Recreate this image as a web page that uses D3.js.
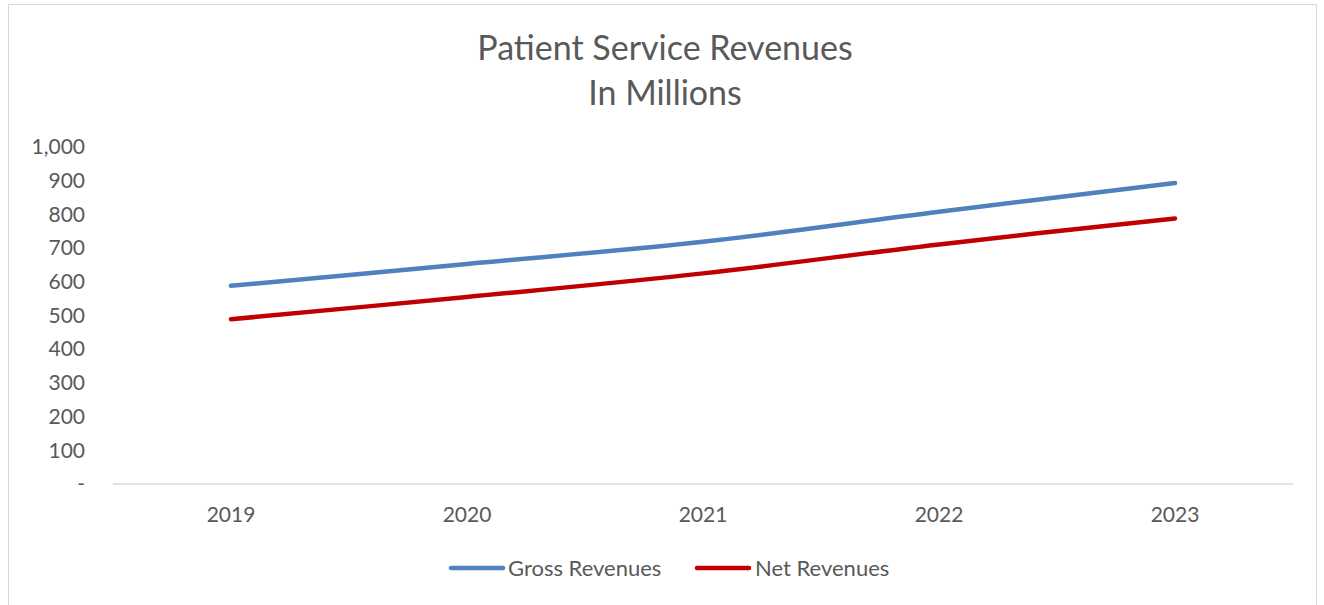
<!DOCTYPE html>
<html>
<head>
<meta charset="utf-8">
<script src="https://cdn.jsdelivr.net/npm/d3@7"></script>
<style>
  html, body { margin: 0; padding: 0; background: #fff; }
  svg { display: block; }
  text { font-family: Lato, "Open Sans", sans-serif; fill: #595959; }
</style>
</head>
<body>
<svg id="chart" width="1324" height="605"></svg>
<script>
// Patient service revenues, in millions of dollars
const years = ["2019", "2020", "2021", "2022", "2023"];
const grossRevenues = [588, 653, 719, 808, 893];
const netRevenues = [489, 555, 625, 711, 788];
const yTicks = [0, 100, 200, 300, 400, 500, 600, 700, 800, 900, 1000];
const seriesNames = ["Gross Revenues", "Net Revenues"];
const seriesColors = ["#4f81bd", "#c00000"];

const svg = d3.select("#chart");

// chart frame
svg.append("rect")
  .attr("x", 8.5).attr("y", 4.5)
  .attr("width", 1308).attr("height", 640)
  .attr("fill", "#fff").attr("stroke", "#d9d9d9").attr("stroke-width", 1);

const plot = { left: 113, right: 1293, top: 147, bottom: 484 };

const x = d3.scaleBand().domain(years).range([plot.left, plot.right]);
const y = d3.scaleLinear().domain([0, 1000]).range([plot.bottom, plot.top]);

// title
const title = svg.append("text")
  .attr("text-anchor", "middle")
  .style("font-size", "34px");
title.append("tspan").attr("x", 665).attr("y", 60).text("Patient Service Revenues");
title.append("tspan").attr("x", 665).attr("y", 105).text("In Millions");

// y axis labels (no line, no ticks)
const fmt = d3.format(",");
const yAxis = d3.axisLeft(y).tickValues(yTicks)
  .tickFormat(d => d === 0 ? "-" : fmt(d))
  .tickSize(0).tickPadding(0);
const gy = svg.append("g").attr("transform", "translate(85,0)").call(yAxis);
gy.select(".domain").remove();
gy.selectAll("text").style("font-size", "21px").attr("fill", "#595959")
  .style("font-family", "Lato, 'Open Sans', sans-serif");

// x axis
const xAxis = d3.axisBottom(x).tickSize(0).tickPadding(23);
const gx = svg.append("g").attr("transform", `translate(0,${plot.bottom})`).call(xAxis);
gx.select(".domain").attr("stroke", "#d9d9d9").attr("stroke-width", 1.5)
  .attr("d", `M${plot.left},0H${plot.right}`);
gx.selectAll("text").style("font-size", "21px").attr("fill", "#595959")
  .style("font-family", "Lato, 'Open Sans', sans-serif");

// lines
const line = d3.line()
  .x((d, i) => x(years[i]) + x.bandwidth() / 2)
  .y(d => y(d))
  .curve(d3.curveCatmullRom.alpha(0.5));

[grossRevenues, netRevenues].forEach((vals, k) => {
  svg.append("path")
    .datum(vals)
    .attr("d", line)
    .attr("fill", "none")
    .attr("stroke", seriesColors[k])
    .attr("stroke-width", 4.5)
    .attr("stroke-linecap", "round")
    .attr("stroke-linejoin", "round");
});

// legend
const legendItems = [
  { x0: 451, tx: 508 },
  { x0: 697, tx: 755 }
];
legendItems.forEach((it, k) => {
  svg.append("line")
    .attr("x1", it.x0).attr("x2", it.x0 + 52)
    .attr("y1", 568).attr("y2", 568)
    .attr("stroke", seriesColors[k]).attr("stroke-width", 4.5)
    .attr("stroke-linecap", "round");
  svg.append("text")
    .attr("x", it.tx).attr("y", 576)
    .style("font-size", "22px")
    .text(seriesNames[k]);
});
</script>
</body>
</html>
